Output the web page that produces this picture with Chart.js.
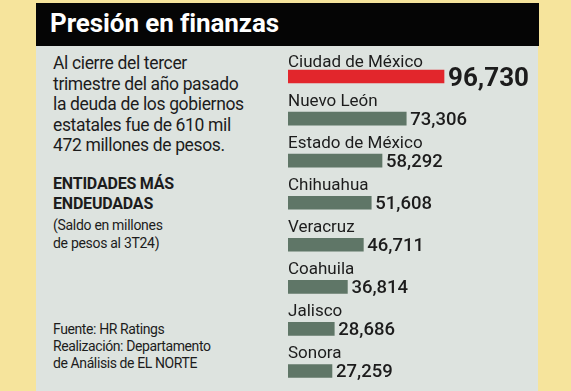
<!DOCTYPE html>
<html lang="es">
<head>
<meta charset="UTF-8">
<title>Presión en finanzas</title>
<script src="https://cdn.jsdelivr.net/npm/chart.js"></script>
<style>
    * { margin: 0; padding: 0; box-sizing: border-box; }
    body {
        width: 571px;
        height: 391px;
        overflow: hidden;
        background: #f6e49c;
        font-family: Roboto, "Noto Sans", sans-serif;
        color: #1c1c1c;
        position: relative;
    }
    .panel {
        position: absolute;
        left: 36px; top: 46px;
        width: 502px; height: 345px;
        background: #dde3df;
    }
    .header {
        position: absolute;
        left: 36px; top: 3px;
        width: 503px; height: 43px;
        background: #050505;
        color: #fff;
        font-weight: 700;
        font-size: 26px;
        padding: 5px 0 0 14px;
        letter-spacing: -0.1px;
    }
    .intro {
        position: absolute;
        left: 53px; top: 53px;
        font-size: 17.5px;
        line-height: 20.5px;
        letter-spacing: -0.35px;
    }
    .subtitle {
        position: absolute;
        left: 53px; top: 174px;
        font-size: 16px;
        font-weight: 700;
        line-height: 20px;
        letter-spacing: -0.2px;
    }
    .note {
        position: absolute;
        left: 53px; top: 216px;
        font-size: 14px;
        line-height: 18px;
        letter-spacing: -0.3px;
    }
    .footer {
        position: absolute;
        left: 53px; top: 321px;
        font-size: 14px;
        line-height: 17px;
        letter-spacing: -0.4px;
    }
    .chart-box {
        position: absolute;
        left: 280px; top: 40px;
        width: 260px; height: 352px;
    }
</style>
</head>
<body>
    <div class="panel"></div>
    <div class="header">Presión en finanzas</div>
    <div class="intro">Al cierre del tercer<br>trimestre del año pasado<br>la deuda de los gobiernos<br>estatales fue de 610 mil<br>472 millones de pesos.</div>
    <div class="subtitle">ENTIDADES MÁS<br>ENDEUDADAS</div>
    <div class="note">(Saldo en millones<br>de pesos al 3T24)</div>
    <div class="footer">Fuente: HR Ratings<br>Realización: Departamento<br>de Análisis de EL NORTE</div>

    <div class="chart-box">
        <canvas id="deuda-chart"></canvas>
    </div>

<script>
    const estados = ["Ciudad de México", "Nuevo León", "Estado de México", "Chihuahua",
                     "Veracruz", "Coahuila", "Jalisco", "Sonora"];
    const saldos = [96730, 73306, 58292, 51608, 46711, 36814, 28686, 27259];
    const colores = ["#e2262c", "#5f7667", "#5f7667", "#5f7667", "#5f7667", "#5f7667", "#5f7667", "#5f7667"];

    // etiquetas arriba de cada barra y cifra a la derecha
    const etiquetas = {
        id: 'etiquetas',
        afterDatasetsDraw(chart) {
            const ctx = chart.ctx;
            const meta = chart.getDatasetMeta(0);
            ctx.save();
            meta.data.forEach((bar, i) => {
                ctx.fillStyle = '#1c1c1c';
                ctx.textAlign = 'left';
                ctx.textBaseline = 'alphabetic';
                ctx.font = '17px Roboto, sans-serif';
                ctx.fillText(estados[i], chart.chartArea.left, bar.y - (i === 0 ? 9.5 : 12.5));
                const txt = saldos[i].toLocaleString('en-US');
                if (i === 0) {
                    ctx.font = 'bold 26px Roboto, sans-serif';
                    ctx.fillText(txt, bar.x + 4, bar.y + 9.5);
                } else {
                    ctx.font = '500 18.5px Roboto, sans-serif';
                    ctx.fillText(txt, bar.x + 4, bar.y + 6);
                }
            });
            ctx.restore();
        }
    };

    new Chart(document.getElementById('deuda-chart'), {
        type: 'bar',
        data: {
            labels: estados,
            datasets: [{
                data: saldos,
                backgroundColor: colores,
                barThickness: 13,
                borderWidth: 0
            }]
        },
        options: {
            indexAxis: 'y',
            responsive: true,
            maintainAspectRatio: false,
            animation: false,
            layout: { padding: { left: 8, right: 2, top: 15.5, bottom: 0 } },
            scales: {
                x: { display: false, min: 0, max: 155000 },
                y: { display: false }
            },
            plugins: {
                legend: { display: false },
                tooltip: { enabled: false }
            }
        },
        plugins: [etiquetas]
    });
</script>
</body>
</html>
